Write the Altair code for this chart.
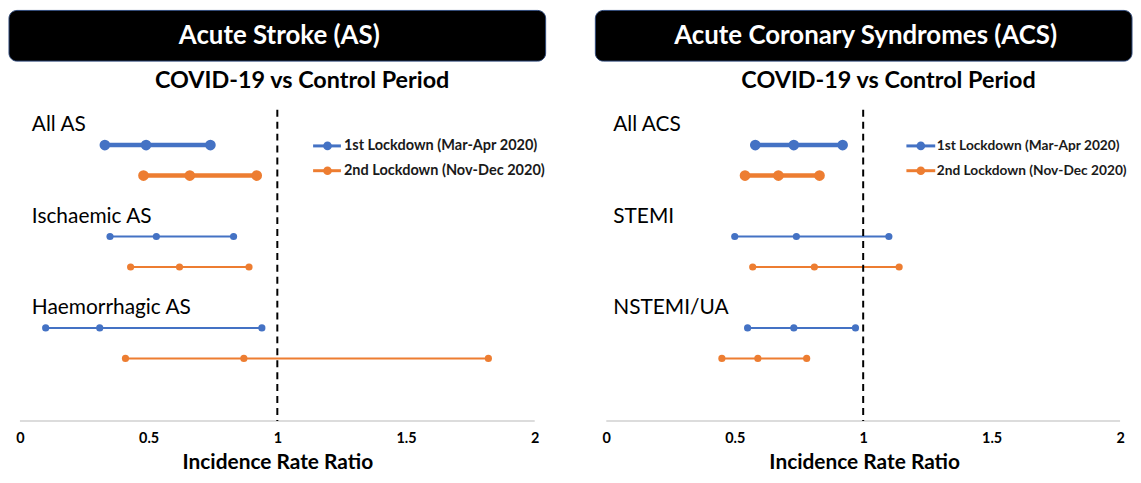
import altair as alt
import pandas as pd

# ---------------- data ----------------
periods = ["1st Lockdown (Mar-Apr 2020)", "2nd Lockdown (Nov-Dec 2020)"]
colors = ["#4472C4", "#ED7D31"]

as_title = "Acute Stroke (AS)"
acs_title = "Acute Coronary Syndromes (ACS)"
subtitle = "COVID-19 vs Control Period"
x_title = "Incidence Rate Ratio"
x_ticks = [0, 0.5, 1, 1.5, 2]
ref_value = [1]

as_groups = ["All AS", "Ischaemic AS", "Haemorrhagic AS"]
as_lower_1 = [0.33, 0.35, 0.10]
as_irr_1 = [0.49, 0.53, 0.31]
as_upper_1 = [0.74, 0.83, 0.94]
as_lower_2 = [0.48, 0.43, 0.41]
as_irr_2 = [0.66, 0.62, 0.87]
as_upper_2 = [0.92, 0.89, 1.82]

acs_groups = ["All ACS", "STEMI", "NSTEMI/UA"]
acs_lower_1 = [0.58, 0.50, 0.55]
acs_irr_1 = [0.73, 0.74, 0.73]
acs_upper_1 = [0.92, 1.10, 0.97]
acs_lower_2 = [0.54, 0.57, 0.45]
acs_irr_2 = [0.67, 0.81, 0.59]
acs_upper_2 = [0.83, 1.14, 0.78]

FONT = "Lato"
PLOT_H = 412
Y_DOMAIN = [-13.16, 27.15]
LEG_ROWS = [0.08, 2.52]

XAXIS = alt.Axis(values=x_ticks, format="~g", domain=False, ticks=False,
                 grid=False, labelFont=FONT, labelFontSize=14.5,
                 labelFontWeight="bold", labelColor="black",
                 labelPadding=11, titleFont=FONT,
                 titleFontSize=21, titleFontWeight="bold",
                 titleColor="black", titlePadding=6)


def panel(title, groups, lo1, est1, hi1, lo2, est2, hi2,
          width, box_w, x_dom, label_px, leg_px, leg_fs, sub_px):
    rows = []
    for gi, g in enumerate(groups):
        for pi, (lo, est, hi) in enumerate([(lo1[gi], est1[gi], hi1[gi]),
                                            (lo2[gi], est2[gi], hi2[gi])]):
            rows.append({"group": g, "period": periods[pi], "lower": lo,
                         "irr": est, "upper": hi, "row": gi * 9 + pi * 3,
                         "sw": 4.5 if gi == 0 else 2,
                         "sz": 115 if gi == 0 else 52})
    df = pd.DataFrame(rows)
    pts = df.melt(id_vars=["group", "period", "row", "sw", "sz"],
                  value_vars=["lower", "irr", "upper"], value_name="v")
    lab = pd.DataFrame({"group": groups,
                        "lrow": [gi * 9 - 1.95 for gi in range(len(groups))]})
    leg = pd.DataFrame({"period": periods, "ly": LEG_ROWS})

    xs = alt.Scale(domain=x_dom, nice=False, zero=False)
    ys = alt.Scale(domain=Y_DOMAIN, reverse=True, nice=False, zero=False)
    cs = alt.Scale(domain=periods, range=colors)

    def X(field):
        return alt.X(field, scale=xs, axis=XAXIS, title=x_title)

    head = alt.Chart(pd.DataFrame({"t": [title]}))
    box = head.mark_rect(color="black", cornerRadius=8, stroke="#2f4a7a",
                         strokeWidth=1).encode(
        x=alt.value(0), x2=alt.value(box_w), y=alt.value(-1), y2=alt.value(50))
    box_txt = head.mark_text(color="white", font=FONT, fontSize=26,
                             fontWeight="bold", baseline="middle").encode(
        x=alt.value(box_w / 2 + 2), y=alt.value(25), text="t:N")
    sub = alt.Chart(pd.DataFrame({"s": [subtitle]})).mark_text(
        color="black", font=FONT, fontSize=23.5, fontWeight="bold",
        baseline="middle").encode(x=alt.value(sub_px), y=alt.value(70), text="s:N")

    ref = alt.Chart(pd.DataFrame({"ref": ref_value})).mark_rule(
        color="black", strokeWidth=2, strokeDash=[7, 5]).encode(
        x=X("ref:Q"), y=alt.value(99), y2=alt.value(PLOT_H))

    axline = alt.Chart(pd.DataFrame({"a": [x_ticks[0]], "b": [x_ticks[-1]]})).mark_rule(
        color="#d0d0d0", strokeWidth=1.5).encode(
        x=X("a:Q"), x2="b:Q", y=alt.value(PLOT_H))

    ci = alt.Chart(df).mark_rule().encode(
        x=X("lower:Q"),
        x2="upper:Q",
        y=alt.Y("row:Q", scale=ys, axis=None),
        color=alt.Color("period:N", scale=cs, legend=None),
        strokeWidth=alt.StrokeWidth("sw:Q", scale=None),
    )
    dots = alt.Chart(pts).mark_circle(opacity=1).encode(
        x=X("v:Q"),
        y=alt.Y("row:Q", scale=ys, axis=None),
        color=alt.Color("period:N", scale=cs, legend=None),
        size=alt.Size("sz:Q", scale=None),
    )
    labels = alt.Chart(lab).mark_text(align="left", baseline="middle", font=FONT,
                                      fontSize=21, color="black").encode(
        x=alt.value(label_px), y=alt.Y("lrow:Q", scale=ys, axis=None), text="group:N")

    l1, l2, lc, lt = leg_px
    leg_line = alt.Chart(leg).mark_rule(strokeWidth=3).encode(
        x=alt.value(l1), x2=alt.value(l2), y=alt.Y("ly:Q", scale=ys, axis=None),
        color=alt.Color("period:N", scale=cs, legend=None))
    leg_dot = alt.Chart(leg).mark_circle(opacity=1, size=75).encode(
        x=alt.value(lc), y=alt.Y("ly:Q", scale=ys, axis=None),
        color=alt.Color("period:N", scale=cs, legend=None))
    leg_txt = alt.Chart(leg).mark_text(align="left", baseline="middle", font=FONT,
                                       fontSize=leg_fs, fontWeight="bold",
                                       color="#1a1a1a").encode(
        x=alt.value(lt), y=alt.Y("ly:Q", scale=ys, axis=None), text="period:N")

    return alt.layer(ci, dots, axline, ref, box, box_txt, sub, labels,
                     leg_line, leg_dot, leg_txt).properties(width=width, height=PLOT_H)


left = panel(as_title, as_groups, as_lower_1, as_irr_1, as_upper_1,
             as_lower_2, as_irr_2, as_upper_2,
             width=540, box_w=540, x_dom=[-0.0425, 2.0425], label_px=23,
             leg_px=(306, 334, 320.5, 337), leg_fs=14.6, sub_px=295)
right = panel(acs_title, acs_groups, acs_lower_1, acs_irr_1, acs_upper_1,
              acs_lower_2, acs_irr_2, acs_upper_2,
              width=541, box_w=540, x_dom=[-0.0426, 2.0503], label_px=18,
              leg_px=(313, 342, 327.5, 343.5), leg_fs=13.8, sub_px=295)

chart = alt.hconcat(left, right, spacing=48).configure(
    padding=0, font=FONT).configure_view(stroke=None)

chart.save("out.html", embed_options={"renderer": "svg", "actions": False})
